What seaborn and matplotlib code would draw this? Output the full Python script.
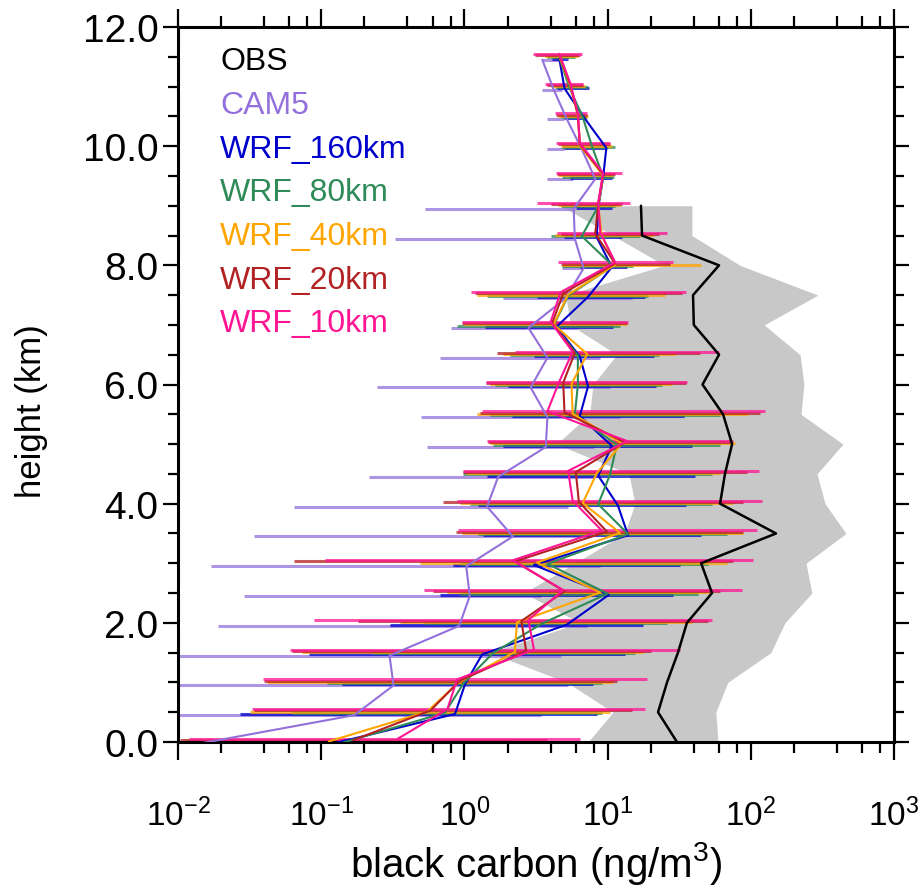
import numpy as np
import pandas as pd
import matplotlib
matplotlib.use("Agg")
import matplotlib.pyplot as plt
import matplotlib.ticker as mticker
import seaborn as sns

# ---------------- data ----------------
levels = [0.0, 0.5, 1.0, 1.5, 2.0, 2.5, 3.0, 3.5, 4.0, 4.5, 5.0, 5.5,
          6.0, 6.5, 7.0, 7.5, 8.0, 8.5, 9.0, 9.5, 10.0, 10.5, 11.0, 11.5]

obs_levels = [0.0, 0.5, 1.0, 1.5, 2.0, 2.5, 3.0, 3.5, 4.0, 4.5, 5.0, 5.5,
              6.0, 6.5, 7.0, 7.5, 8.0, 8.5, 9.0]
obs_mean = [30.5, 22.5, 26, 31, 35.8, 53.6, 45, 150, 61, 66, 74, 64,
            46, 60, 40, 39.5, 60, 17.4, 17.1]
obs_lo = [7.3, 10.9, 5.2, 1.5, 6.4, 2.6, 5.9, 13.2, 15.5, 14.1, 4.4, 7.5,
          7.9, 11.6, 5.5, 5.1, 25, 10.9, 4.7]
obs_hi = [59, 57, 69, 138, 173, 267, 243, 462, 330, 290, 440, 224,
          235, 221, 124, 294, 84, 38.8, 38.8]

models = ["CAM5", "WRF_160km", "WRF_80km", "WRF_40km", "WRF_20km", "WRF_10km"]

cam5_mean = [0.0125, 0.17, 0.32, 0.30, 0.92, 1.09, 1.03, 2.18, 1.44, 1.72, 3.7, 3.8,
             2.9, 3.8, 2.8, 5.1, 6.8, 5.9, 5.8, 8.2, 6.6, 5.2, 4.2, 3.5]
cam5_lo = [0.002, 0.003, 0.004, 0.005, 0.019, 0.029, 0.017, 0.034, 0.065, 0.216, 0.55, 0.50,
           0.245, 0.68, 0.81, 1.86, 4.8, 0.33, 0.53, 3.8, 3.8, 3.8, 3.5, 3.5]
cam5_hi = [0.8, 3.4, 5.3, 4.7, 7.2, 3.4, 8.9, 7.6, 5.3, 8.0, 8.0, 12.2,
           10.4, 8.9, 6.1, 14.8, 6.7, 5.9, 5.9, 5.7, 5.0, 5.0, 4.8, 4.7]

w160_mean = [0.119, 0.86, 1.01, 1.33, 5.2, 10.2, 3.06, 13.9, 11.8, 8.6, 10.7, 6.4,
             7.3, 6.4, 4.4, 7.3, 10.7, 8.4, 8.6, 9.3, 9.8, 6.9, 5.0, 4.6]
w160_lo = [0.0108, 0.027, 0.14, 0.082, 0.3, 0.68, 0.83, 1.34, 1.24, 1.44, 1.86, 2.15,
           2.0, 3.05, 1.39, 3.2, 6.4, 5.0, 6.0, 5.5, 5.0, 5.0, 4.4, 4.1]
w160_hi = [1.33, 8.4, 7.9, 13.2, 17.7, 28.6, 32, 45, 35, 41, 39, 34,
           21.8, 21, 10.9, 18.2, 13.7, 12.6, 10.7, 10.7, 9.9, 7.1, 7.4, 5.3]

w80_mean = [0.142, 0.73, 0.99, 1.58, 3.5, 10.0, 3.8, 13.9, 8.6, 10.4, 11.6, 5.9,
            6.2, 6.2, 4.2, 5.3, 10.9, 6.6, 8.6, 9.3, 7.8, 6.7, 5.4, 4.6]
w80_lo = [0.011, 0.063, 0.11, 0.23, 0.52, 0.93, 0.93, 1.24, 1.09, 0.98, 1.58, 1.51,
          1.63, 2.08, 0.89, 1.44, 4.8, 4.0, 4.7, 4.8, 4.8, 4.7, 4.3, 3.8]
w80_hi = [1.83, 9.1, 9.1, 15.5, 26, 43, 50, 68, 54, 54, 61, 61,
          24, 23, 12.2, 19, 15, 16.8, 11.3, 11.1, 11.3, 7.2, 7.3, 5.9]

w40_mean = [0.113, 0.55, 0.92, 2.25, 2.33, 8.9, 3.2, 12.2, 6.7, 8.4, 12.6, 5.7,
            5.6, 7.2, 4.2, 5.3, 11.3, 9.1, 8.6, 9.3, 6.4, 6.2, 5.5, 4.6]
w40_lo = [0.011, 0.032, 0.042, 0.073, 0.355, 0.76, 0.49, 0.96, 0.93, 1.03, 1.51, 1.22,
          1.51, 1.86, 1.0, 1.22, 4.8, 4.3, 4.5, 4.5, 4.7, 4.5, 4.0, 3.65]
w40_hi = [2.2, 10.4, 10.9, 17.7, 39, 54, 68, 88, 75, 61, 78, 95,
          28, 30, 13.7, 25, 45, 21, 12.2, 10.9, 10.7, 7.3, 6.9, 6.2]

w20_mean = [0.167, 0.58, 0.93, 2.7, 2.5, 5.0, 2.25, 9.9, 6.3, 6.0, 13.2, 5.0,
            4.9, 5.9, 4.1, 4.9, 11.3, 8.2, 8.6, 9.3, 6.4, 6.2, 5.5, 4.6]
w20_lo = [0.0103, 0.034, 0.040, 0.063, 0.18, 0.60, 0.065, 0.87, 0.71, 0.98, 1.46, 1.28,
          1.42, 1.69, 0.96, 1.19, 4.7, 4.7, 4.0, 4.4, 4.5, 4.35, 3.8, 3.1]
w20_hi = [3.8, 14.8, 11.6, 20, 50, 61, 75, 88, 88, 94, 72, 116,
          35, 44, 13.7, 33, 27.3, 23, 12.6, 11.3, 10.4, 7.2, 6.7, 6.4]

w10_mean = [0.34, 0.76, 0.89, 3.06, 2.8, 4.9, 2.18, 9.1, 5.7, 5.3, 13.7, 3.8,
            4.6, 5.7, 4.0, 4.7, 11.3, 8.9, 8.6, 9.3, 6.4, 6.2, 5.5, 4.6]
w10_lo = [0.012, 0.033, 0.039, 0.061, 0.089, 0.52, 0.106, 0.90, 0.89, 0.98, 1.44, 1.33,
          1.42, 2.25, 0.96, 1.11, 4.5, 4.4, 3.2, 4.35, 4.35, 4.3, 3.65, 3.0]
w10_hi = [6.4, 18.2, 18.8, 32, 54, 87, 103, 110, 120, 114, 75, 126,
          36, 60, 13.9, 35, 28.6, 26, 14.3, 12.6, 10.4, 7.2, 6.7, 6.6]

# ---------------- styling ----------------
colors = {"CAM5": "#9370DB", "WRF_160km": "#0000CD", "WRF_80km": "#2E8B57",
          "WRF_40km": "#FFA500", "WRF_20km": "#B22222", "WRF_10km": "#FF1493"}
offsets = {"CAM5": -0.05, "WRF_160km": -0.03, "WRF_80km": -0.01,
           "WRF_40km": 0.01, "WRF_20km": 0.03, "WRF_10km": 0.05}

sns.set_theme(style="ticks")
plt.rcParams["font.family"] = ["Liberation Sans", "DejaVu Sans"]
plt.rcParams["mathtext.fontset"] = "custom"
plt.rcParams["mathtext.rm"] = "Liberation Sans"
plt.rcParams["mathtext.it"] = "Liberation Sans"
for k in ["text.color", "axes.labelcolor", "xtick.color", "ytick.color",
          "xtick.labelcolor", "ytick.labelcolor", "axes.edgecolor"]:
    plt.rcParams[k] = "black"

means = [cam5_mean, w160_mean, w80_mean, w40_mean, w20_mean, w10_mean]
los = [cam5_lo, w160_lo, w80_lo, w40_lo, w20_lo, w10_lo]
his = [cam5_hi, w160_hi, w80_hi, w40_hi, w20_hi, w10_hi]

rows = []
for m, mean, lo, hi in zip(models, means, los, his):
    for h, v, a, b in zip(levels, mean, lo, hi):
        rows.append({"model": m, "h": h, "y": h + offsets[m], "bc": v, "lo": a, "hi": b})
df = pd.DataFrame(rows)

fig = plt.figure(figsize=(9.18, 8.87), dpi=100)
ax = fig.add_axes([178 / 918, 1 - 743 / 887, 716 / 918, 715 / 887])

# OBS range
ax.fill_betweenx(obs_levels, obs_lo, obs_hi, color="#C8C8C8", lw=0, zorder=1)

# error bars
for m in models:
    d = df[df.model == m]
    ax.hlines(d["y"], d["lo"], d["hi"], colors=colors[m], lw=2.2, alpha=0.75, zorder=2)

# model profiles
sns.lineplot(data=df, x="bc", y="y", hue="model", palette=colors, hue_order=models,
             sort=False, estimator=None, lw=1.5, legend=False, ax=ax, zorder=3)

# OBS profile
sns.lineplot(x=obs_mean, y=obs_levels, sort=False, estimator=None, color="black",
             lw=1.8, ax=ax, zorder=4)

ax.set_xscale("log")
ax.set_xlim(1e-2, 1e3)
ax.set_ylim(0, 12)
ax.xaxis.set_major_locator(mticker.LogLocator(base=10, numticks=10))
ax.xaxis.set_minor_locator(mticker.LogLocator(base=10, subs=[2, 4, 6, 8], numticks=10))
ax.xaxis.set_minor_formatter(mticker.NullFormatter())
ax.yaxis.set_major_locator(mticker.MultipleLocator(2.0))
ax.yaxis.set_minor_locator(mticker.MultipleLocator(0.5))
ax.yaxis.set_major_formatter(mticker.FormatStrFormatter("%.1f"))

for s in ax.spines.values():
    s.set_linewidth(2.2)
    s.set_visible(True)
    s.set_color("black")
ax.tick_params(which="both", direction="out", top=True, right=True, width=1.6, color="black")
ax.tick_params(which="major", length=13)
ax.tick_params(which="minor", length=8)
ax.tick_params(axis="y", which="major", length=11, labelsize=28, pad=3)
ax.tick_params(axis="y", which="minor", length=7)
ax.tick_params(axis="x", which="major", labelsize=24, pad=27)

ax.set_xlabel("black carbon (ng/m$^3$)", fontsize=29)
ax.set_ylabel("height (km)", fontsize=25)
ax.xaxis.set_label_coords(0.5, -0.135)
ax.yaxis.set_label_coords(-0.182, 0.464)

# legend as coloured text
leg_labels = ["OBS"] + models
leg_colors = ["black"] + [colors[m] for m in models]
for i, (lab, c) in enumerate(zip(leg_labels, leg_colors)):
    ax.text(0.059, 0.952 - i * 0.0611, lab, color=c, fontsize=23,
            transform=ax.transAxes, va="center", ha="left", zorder=5)

fig.savefig("out.png", dpi=100)
